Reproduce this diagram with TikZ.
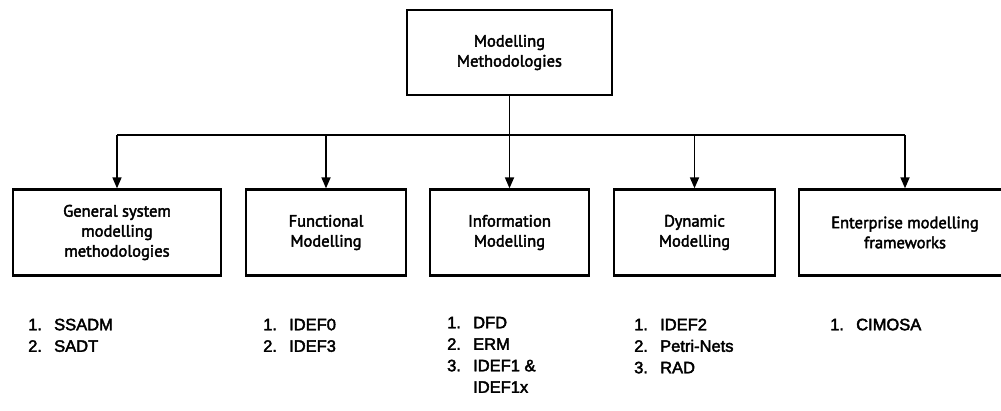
\documentclass[tikz,border=0pt]{standalone}
\usepackage{fontspec}
\setmainfont[FakeBold=2.5]{Liberation Sans}
\newfontfamily\boxfont[FakeBold=2.5]{PT Sans}
\usetikzlibrary{arrows.meta}
\tikzset{
  x=1pt,y=-1pt,
  mbox/.style={draw=black, line width=2.3pt, inner sep=0pt, align=center,
    font=\boxfont\fontsize{16.5}{20}\selectfont, text=black},
  conn/.style={draw=black, line width=1.7pt},
  arr/.style={conn, -{Triangle[length=11pt,width=9pt]}},
  listnode/.style={anchor=north west, inner sep=0pt, text=black,
    font=\fontsize{16.5}{21.5}\selectfont}
}
\newcommand{\itemlist}[1]{\begin{tabular}{@{}p{26pt}@{}l@{}}#1\end{tabular}}
\begin{document}
\begin{tikzpicture}
\useasboundingbox[fill=white] (0,0) rectangle (1001,410);
\node[mbox, minimum width=205pt, minimum height=85pt] (top) at (509.5,52.5) {Modelling\\Methodologies};
\node[mbox, minimum width=208pt, minimum height=86pt] (gen) at (117,232.5) {General system\\modelling\\methodologies};
\node[mbox, minimum width=160pt, minimum height=86pt] (fun) at (326,232.5) {Functional\\Modelling};
\node[mbox, minimum width=159pt, minimum height=86pt] (inf) at (509.5,232.5) {Information\\Modelling};
\node[mbox, minimum width=161pt, minimum height=86pt] (dyn) at (694.5,232.5) {Dynamic\\Modelling};
\node[mbox, minimum width=212pt, minimum height=86pt] (ent) at (905,232.5) {Enterprise modelling\\frameworks};
\coordinate (bus) at (509.5,135);
\draw[conn] (top.south) -- (bus);
\draw[conn] (gen.north |- bus) -- (ent.north |- bus);
\draw[arr] (gen.north |- bus) -- (gen.north);
\draw[arr] (fun.north |- bus) -- (fun.north);
\draw[arr] (bus) -- (inf.north);
\draw[arr] (dyn.north |- bus) -- (dyn.north);
\draw[arr] (ent.north |- bus) -- (ent.north);
\node[listnode] (l1) at (28,315) {\itemlist{1.&SSADM\\2.&SADT}};
\node[listnode] (l2) at (263,315) {\itemlist{1.&IDEF0\\2.&IDEF3}};
\node[listnode] (l3) at (447,313) {\itemlist{1.&DFD\\2.&ERM\\3.&IDEF1 \&\\&IDEF1x}};
\node[listnode] (l4) at (634,315) {\itemlist{1.&IDEF2\\2.&Petri-Nets\\3.&RAD}};
\node[listnode] (l5) at (830,315) {\itemlist{1.&CIMOSA}};
\end{tikzpicture}
\end{document}
